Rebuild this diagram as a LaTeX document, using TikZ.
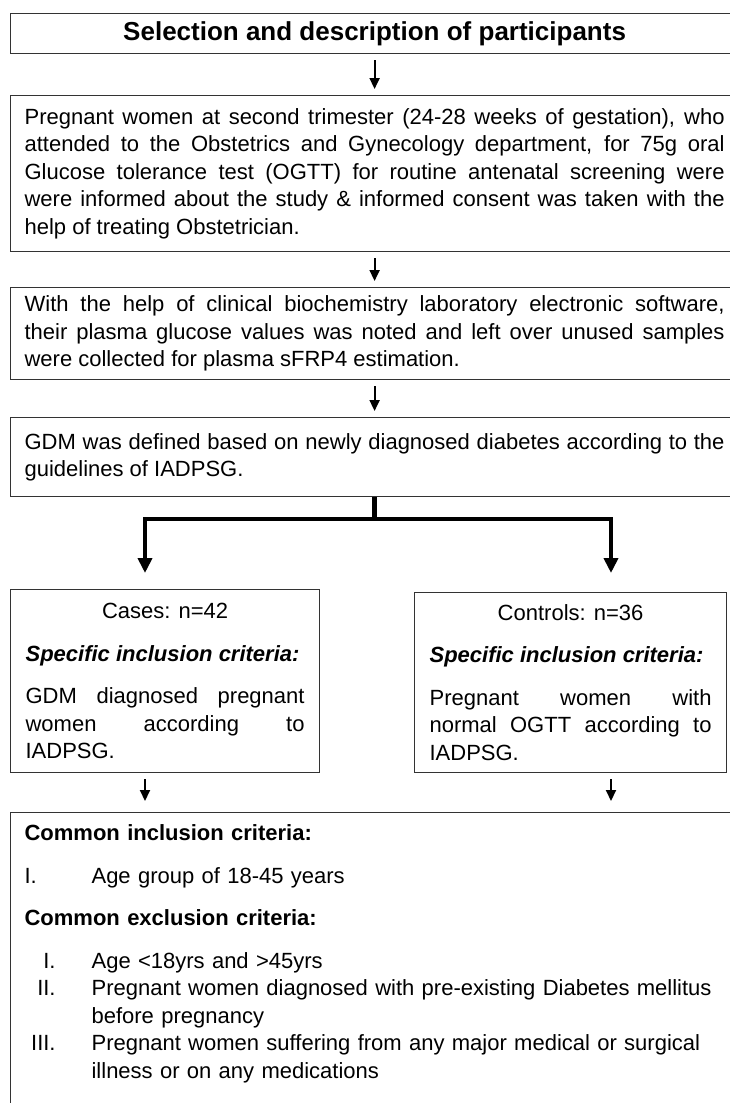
\documentclass[tikz,border=0pt]{standalone}
\usepackage{fontspec}
\setmainfont{Liberation Sans}
\usepackage{tikz}
\usetikzlibrary{arrows.meta,positioning,calc}
\tikzset{
    box/.style={rectangle, draw=black!80, line width=1.2pt, anchor=north west, inner xsep=14pt, inner ysep=6pt, font=\fontsize{22}{27.5}\selectfont},
    mainbox/.style={box, text width=700pt, minimum width=728pt, align=justify},
    groupbox/.style={box, inner xsep=15pt, align=justify},
    arrow/.style={draw, line width=2pt, -{Triangle[length=11pt,width=10pt]}, shorten <=6pt, shorten >=6pt},
    branch/.style={draw, line width=4.5pt},
    brancharrow/.style={branch, -{Triangle[length=15pt,width=14pt]}}
}

\begin{document}
\begin{tikzpicture}[x=1pt, y=1pt]
    \clip (0,0) rectangle (730,-1103);
    % Nodes
    \node[box, minimum width=728pt, minimum height=40pt, inner sep=0pt, font=\bfseries\fontsize{26}{30}\selectfont] (title) at (10,-13) {Selection and description of participants};
    \node[mainbox, minimum height=156pt] (screen) at (10,-95) {Pregnant women at second trimester (24-28 weeks of gestation), who\linebreak attended to the Obstetrics and Gynecology department, for 75g oral\linebreak Glucose tolerance test (OGTT) for routine antenatal screening were\linebreak were informed about the study \& informed consent was taken with the\linebreak help of treating Obstetrician.};
    \node[mainbox, minimum height=92pt] (samples) at (10,-287) {With the help of clinical biochemistry laboratory electronic software,\linebreak their plasma glucose values was noted and left over unused samples\linebreak were collected for plasma sFRP4 estimation.};
    \node[mainbox, minimum height=79pt] (gdm) at (10,-417) {GDM was defined based on newly diagnosed diabetes according to the\linebreak guidelines of IADPSG.};
    \node[groupbox, text width=279pt, minimum height=183pt] (cases) at (10,-589) {\makebox[\linewidth]{Cases: n=42}\\[15pt]
        \textbf{\textit{Specific inclusion criteria:}}\\[15pt]
        GDM diagnosed pregnant\linebreak women according to\linebreak IADPSG.};
    \node[groupbox, text width=282pt, minimum height=180pt] (controls) at (414,-592) {\makebox[\linewidth]{Controls: n=36}\\[15pt]
        \textbf{\textit{Specific inclusion criteria:}}\\[15pt]
        Pregnant women with\linebreak normal OGTT according to\linebreak IADPSG.};
    \node[mainbox, align=left, inner ysep=12pt, text depth=270pt] (common) at (10,-812) {\textbf{Common inclusion criteria:}\\[15pt]
        \makebox[67pt][l]{I.}Age group of 18-45 years\\[15pt]
        \textbf{Common exclusion criteria:}\\[15pt]
        \makebox[31pt][r]{I.}\hspace{36pt}Age <18yrs and >45yrs\\
        \makebox[31pt][r]{II.}\hspace{36pt}Pregnant women diagnosed with pre-existing Diabetes mellitus\\
        \hspace*{67pt}before pregnancy\\
        \makebox[31pt][r]{III.}\hspace{36pt}Pregnant women suffering from any major medical or surgical\\
        \hspace*{67pt}illness or on any medications};

    % edges
    \draw[arrow] (title) -- (screen);
    \draw[arrow] (screen) -- (samples);
    \draw[arrow] (samples) -- (gdm);
    \coordinate (split) at ($(gdm.south)+(0,-22)$);
    \coordinate (lsplit) at (145,-518);
    \coordinate (rsplit) at (611,-518);
    \draw[branch] (gdm.south) -- (split);
    \draw[brancharrow, shorten >=16pt] (split) -| (lsplit |- cases.north);
    \draw[brancharrow, shorten >=19pt] (split) -| (rsplit |- controls.north);
    \draw[arrow, shorten >=11pt] (lsplit |- cases.south) -- (lsplit |- common.north);
    \draw[arrow, shorten >=11pt] (rsplit |- controls.south) -- (rsplit |- common.north);
\end{tikzpicture}
\end{document}
